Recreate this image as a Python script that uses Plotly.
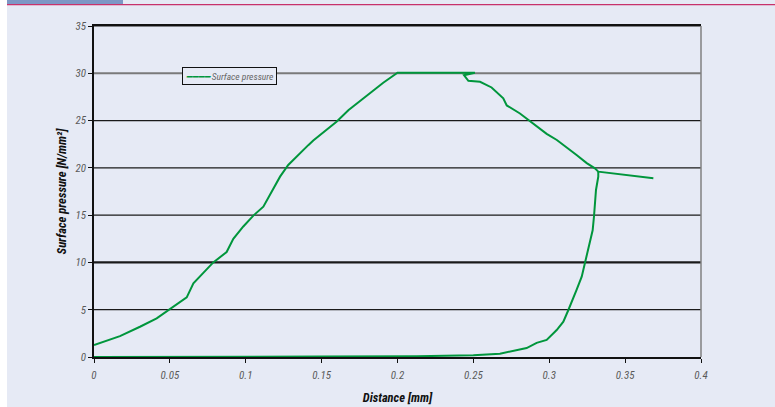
import plotly.graph_objects as go

# ---- data ----
distance_mm = [
    0.3686, 0.3323, 0.3301, 0.3247, 0.3180, 0.3115, 0.3050, 0.2983, 0.2873, 0.2807,
    0.2720, 0.2697, 0.2620, 0.2544, 0.2467, 0.2438, 0.2510, 0.2000,
    0.1906, 0.1819, 0.1764, 0.1676, 0.1600, 0.1511, 0.1445, 0.1412, 0.1336, 0.1280,
    0.1226, 0.1171, 0.1116, 0.1050, 0.0984, 0.0918, 0.0874, 0.0786, 0.0720, 0.0655,
    0.0611, 0.0500, 0.0413, 0.0303, 0.0171, 0.0000,
    None,
    0.0000, 0.1000, 0.1500, 0.2126, 0.2258, 0.2500, 0.2675, 0.2851, 0.2917, 0.2983,
    0.3049, 0.3093, 0.3126, 0.3159, 0.3180, 0.3214, 0.3236, 0.3258, 0.3286, 0.3295,
    0.3301, 0.3308, 0.3323, 0.3323,
]
pressure_nmm2 = [
    18.90, 19.60, 19.95, 20.50, 21.36, 22.20, 22.95, 23.60, 24.90, 25.75,
    26.60, 27.35, 28.50, 29.10, 29.20, 29.80, 30.06, 30.06,
    29.00, 27.90, 27.25, 26.10, 24.90, 23.80, 22.90, 22.40, 21.20, 20.30,
    19.07, 17.50, 15.90, 14.95, 13.80, 12.50, 11.10, 10.00, 8.85, 7.80,
    6.30, 5.04, 4.09, 3.20, 2.20, 1.27,
    None,
    0.00, 0.00, 0.04, 0.08, 0.10, 0.18, 0.35, 0.95, 1.50, 1.80,
    2.85, 3.73, 4.97, 6.40, 7.10, 8.50, 10.00, 11.30, 13.40, 14.90,
    16.60, 17.66, 19.07, 19.60,
]
x_ticks = [0, 0.05, 0.1, 0.15, 0.2, 0.25, 0.3, 0.35, 0.4]
x_tick_labels = ["0", "0.05", "0.1", "0.15", "0.2", "0.25", "0.3", "0.35", "0.4"]
y_ticks = [0, 5, 10, 15, 20, 25, 30, 35]
y_tick_labels = ["0", "5", "10", "15", "20", "25", "30", "35"]
series_name = "Surface pressure"

FONT = "Liberation Sans Narrow, Roboto Condensed, Arial Narrow, Liberation Sans, sans-serif"
BG = "#E6EAF5"
GREEN = "#00963C"

fig = go.Figure()
fig.add_trace(go.Scatter(
    x=distance_mm, y=pressure_nmm2, mode="lines", name=series_name,
    line=dict(color=GREEN, width=2), connectgaps=False, showlegend=False,
))

# plot area geometry in pixels
L, R, T, B = 94, 701, 26, 357
W, H = 775, 407
def px(xp):
    return (xp - L) / (R - L)
def py(yp):
    return (B - yp) / (B - T)

shapes = [
    # white strip on the far left
    dict(type="rect", xref="paper", yref="paper", x0=px(0), x1=px(7), y0=py(H), y1=py(0),
         fillcolor="white", line=dict(width=0), layer="below"),
    # blue bar at top-left
    dict(type="rect", xref="paper", yref="paper", x0=px(7), x1=px(123), y0=py(4), y1=py(0),
         fillcolor="#7D97C5", line=dict(width=0), layer="below"),
    # pink line at top
    dict(type="line", xref="paper", yref="paper", x0=px(7), x1=px(W), y0=py(4.6), y1=py(4.6),
         line=dict(color="#C8326B", width=1.4), layer="below"),
    # right border (grey)
    dict(type="line", xref="paper", yref="paper", x0=1, x1=1, y0=0, y1=1,
         line=dict(color="#808080", width=1.5), layer="above"),
]
# horizontal grid lines at each y tick (grey at 30, heavier at 10)
for v in y_ticks[1:]:
    if v == 30:
        col, wd = "#7a7a7a", 2
    elif v == 10:
        col, wd = "#1a1a1a", 2.2
    else:
        col, wd = "#1a1a1a", 1.2
    shapes.append(dict(type="line", xref="paper", yref="y", x0=0, x1=1, y0=v, y1=v,
                       line=dict(color=col, width=wd), layer="below"))

# compact legend box (line sample + italic label)
annotations = [dict(
    xref="paper", yref="paper", x=px(182), y=py(67), xanchor="left", yanchor="top",
    text="<span style='color:%s'>━━━━</span> %s" % (GREEN, series_name),
    showarrow=False, align="left",
    font=dict(family=FONT, size=9.5, color="#666666", style="italic"),
    bgcolor=BG, bordercolor="#111111", borderwidth=1, borderpad=2.5,
)]

fig.update_layout(
    width=W, height=H,
    margin=dict(l=L, r=W - R, t=T, b=H - B, pad=0, autoexpand=False),
    paper_bgcolor=BG, plot_bgcolor=BG,
    font=dict(family=FONT, color="#555555", size=11),
    showlegend=False,
    shapes=shapes,
    annotations=annotations,
    xaxis=dict(
        range=[0, 0.4], tickvals=x_ticks, ticktext=x_tick_labels,
        showgrid=False, zeroline=False, automargin=False,
        showline=True, linecolor="#111111", linewidth=1.5, mirror=True,
        ticks="outside", ticklen=4, tickcolor="#111111", tickwidth=1,
        ticklabelstandoff=3,
        tickfont=dict(family=FONT, size=11, color="#5a5a5a", style="italic"),
        title=dict(text="Distance [mm]", standoff=12,
                   font=dict(family=FONT, size=12.5, color="#111111", weight="bold", style="italic")),
    ),
    yaxis=dict(
        range=[0, 35], tickvals=y_ticks, ticktext=y_tick_labels,
        showgrid=False, zeroline=False, automargin=False,
        showline=True, linecolor="#111111", linewidth=1.5,
        ticks="outside", ticklen=4, tickcolor="#111111", tickwidth=1,
        tickfont=dict(family=FONT, size=11, color="#5a5a5a", style="italic"),
        title=dict(text="Surface pressure [N/mm²]", standoff=6,
                   font=dict(family=FONT, size=12.5, color="#111111", weight="bold", style="italic")),
    ),
)

fig.write_html("out.html", config={"displayModeBar": False},
               post_script="document.body.style.margin='0';")
